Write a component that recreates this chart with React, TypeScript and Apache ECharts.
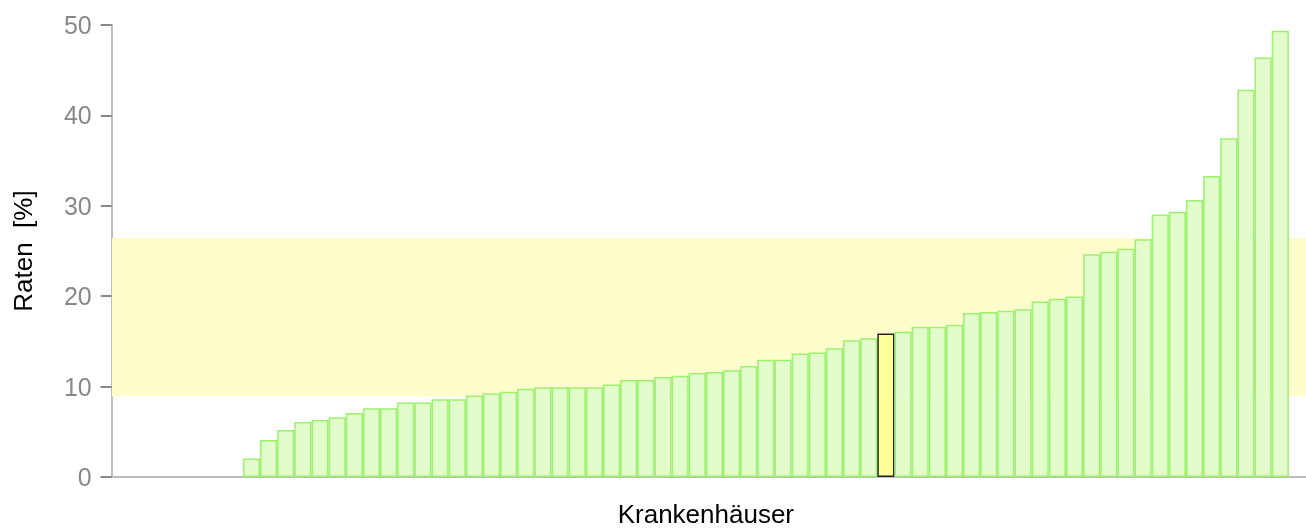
import React, { useEffect, useRef } from "react";
import * as echarts from "echarts";

// Sorted rates per hospital [%]
const rates: number[] = [
  2.04, 4.08, 5.19, 6.08, 6.31, 6.6, 7.08, 7.6, 7.6, 8.23,
  8.23, 8.61, 8.61, 9.01, 9.27, 9.42, 9.76, 9.94, 9.94, 9.94,
  9.94, 10.24, 10.72, 10.72, 11.05, 11.2, 11.5, 11.61, 11.8, 12.28,
  12.98, 12.98, 13.65, 13.76, 14.24, 15.13, 15.36, 15.88, 16.06, 16.62,
  16.62, 16.84, 18.14, 18.25, 18.4, 18.55, 19.4, 19.73, 19.96, 24.63,
  24.93, 25.26, 26.3, 29.04, 29.34, 30.64, 33.31, 37.46, 42.84, 46.4,
  49.37,
];
const highlightIndex = 37; // own hospital
const leadingEmpty = 8;
const trailingEmpty = 1;
const referenceBand: [number, number] = [8.9, 26.45];
const yTicks = { min: 0, max: 50, interval: 10 };

const FONT = "'Liberation Sans', Arial, Helvetica, sans-serif";

export default function App() {
  const ref = useRef<HTMLDivElement>(null);

  useEffect(() => {
    if (!ref.current) return;
    const chart = echarts.init(ref.current, null, { renderer: "svg" });

    const total = leadingEmpty + rates.length + trailingEmpty;
    const categories = Array.from({ length: total }, (_, i) => "KH " + (i + 1));
    const barData: any[] = [];
    for (let i = 0; i < leadingEmpty; i++) barData.push("-");
    rates.forEach((v, i) => {
      if (i === highlightIndex) {
        barData.push({
          value: v,
          itemStyle: { color: "#ffff99", borderColor: "#222222", borderWidth: 1.5 },
        });
      } else {
        barData.push(v);
      }
    });
    for (let i = 0; i < trailingEmpty; i++) barData.push("-");

    chart.setOption({
      animation: false,
      grid: { left: 105.7, width: 1213.3, top: 25, height: 456.5, containLabel: false },
      xAxis: {
        type: "category",
        data: categories,
        name: "Krankenhäuser",
        nameLocation: "middle",
        nameGap: 24,
        nameTextStyle: { color: "#000", fontSize: 26, fontFamily: FONT },
        axisLine: { show: true, lineStyle: { color: "#bdbdbd", width: 2 } },
        axisTick: { show: false },
        axisLabel: { show: false },
        splitLine: { show: false },
      },
      yAxis: {
        type: "value",
        min: yTicks.min,
        max: yTicks.max,
        interval: yTicks.interval,
        offset: -6,
        name: "Raten  [%]",
        nameLocation: "middle",
        nameGap: 76,
        nameRotate: 90,
        nameTextStyle: { color: "#000", fontSize: 26, fontFamily: FONT },
        axisLine: { show: true, lineStyle: { color: "#bdbdbd", width: 2 } },
        axisTick: { show: true, length: 11, lineStyle: { color: "#888888", width: 2 } },
        axisLabel: { color: "#888888", fontSize: 25, fontFamily: FONT, margin: 20 },
        splitLine: { show: false },
      },
      series: [
        {
          type: "line",
          data: [],
          z: 1,
          silent: true,
          markArea: {
            silent: true,
            itemStyle: { color: "#fefdcc" },
            data: [[{ x: 112, yAxis: referenceBand[1] }, { yAxis: referenceBand[0] }]],
          },
        },
        {
          type: "bar",
          z: 2,
          data: barData,
          barCategoryGap: "0%",
          itemStyle: { color: "#e2fdcb", borderColor: "#9cf06f", borderWidth: 1.5 },
        },
      ],
    });

    return () => chart.dispose();
  }, []);

  return (
    <div
      ref={ref}
      style={{ position: "fixed", left: 0, top: 0, width: 1306, height: 532 }}
    />
  );
}
